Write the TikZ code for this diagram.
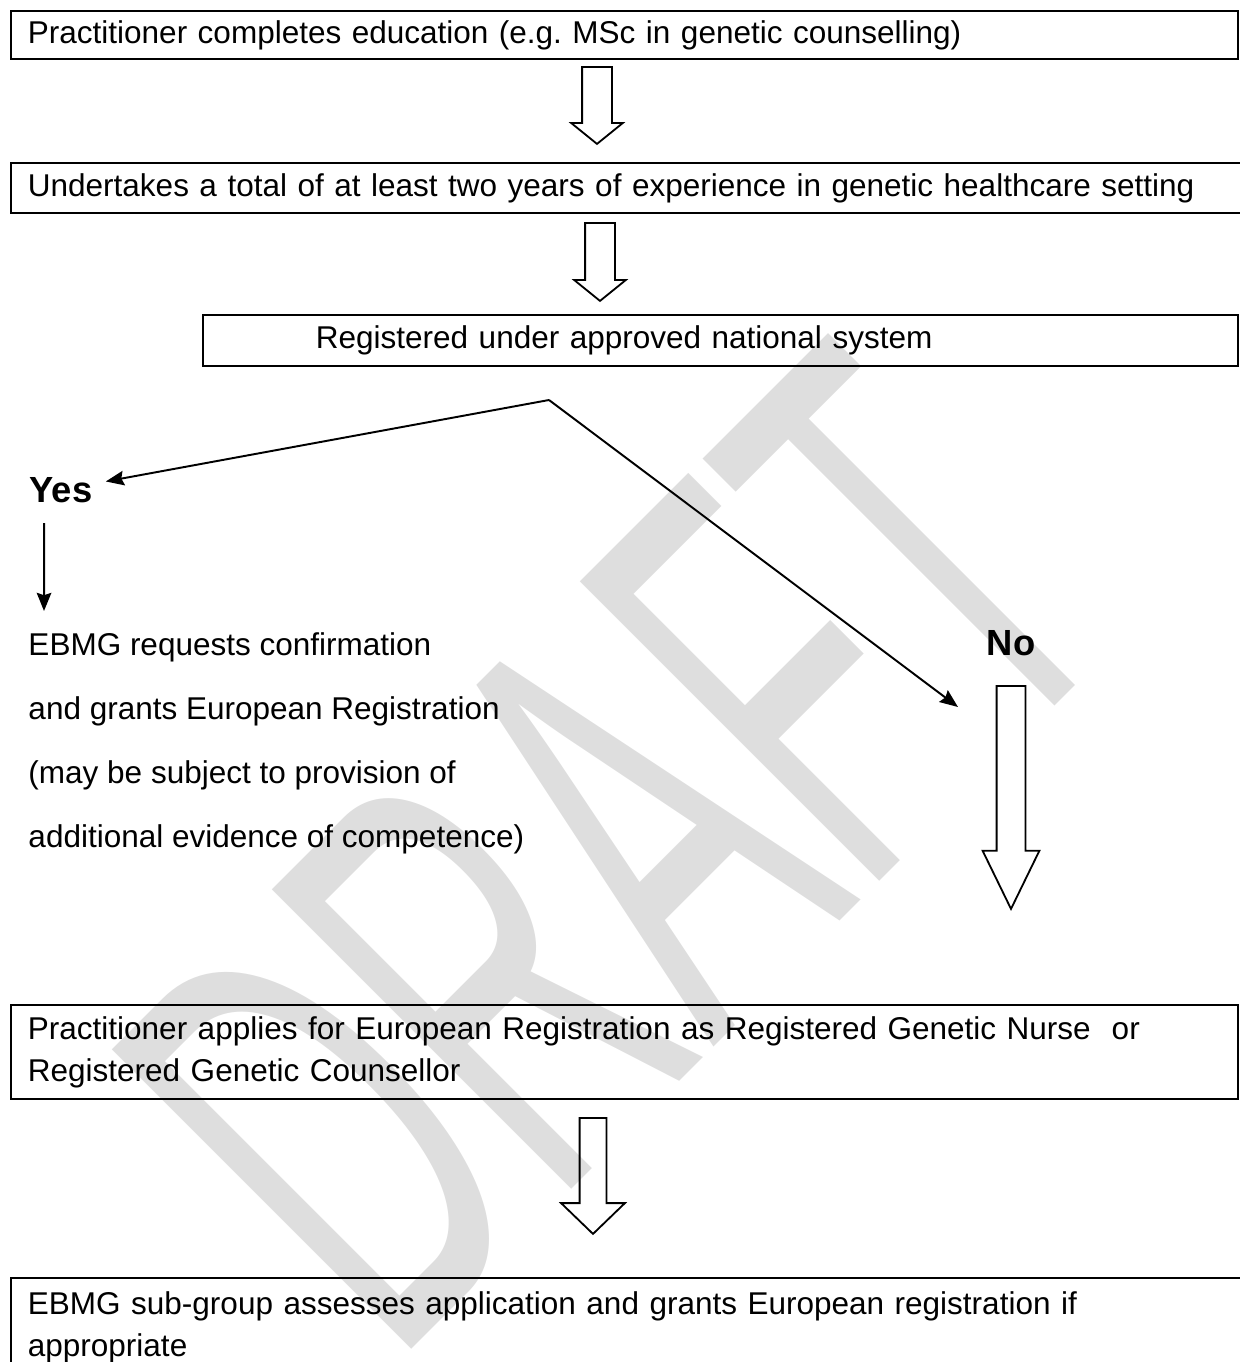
\documentclass[tikz,border=0pt]{standalone}
\usepackage{fontspec}
\setmainfont{Liberation Sans}
\usetikzlibrary{shapes.arrows, arrows.meta, calc}

\newlength\px
\setlength\px{0.4126pt}
\frenchspacing

\begin{document}
\begin{tikzpicture}[
    x=\px, y=-\px,
    box/.style={draw, line width=0.75pt, anchor=north west, inner xsep=17\px, inner ysep=0pt,
      align=left, font=\fontsize{13}{17.3}\selectfont},
    answer/.style={inner sep=0pt, font=\fontsize{15}{18}\selectfont\bfseries},
    note/.style={anchor=north west, inner sep=0pt, align=left, font=\fontsize{13}{26.4}\selectfont},
    blockarrow/.style={draw, line width=0.75pt, single arrow, rotate=-90, anchor=tail,
      inner xsep=0pt, inner ysep=14\px, single arrow head extend=11\px, single arrow tip angle=102},
    arrow/.style={line width=0.8pt, -{Stealth[length=7.5pt, width=6pt, inset=1pt]}},
    watermark/.style={inner sep=0pt, text=black!13, font=\fontsize{254}{254}\selectfont}
]
\useasboundingbox (0,0) rectangle (1239,1362);

% background watermark
\node[watermark, anchor=base, rotate=45, xscale=0.51] (draft) at (763,998) {DRAFT};

% boxes
\node[box, text width=1193\px, minimum height=48\px] (educ) at (10,10)
  {Practitioner completes education (e.g. MSc in genetic counselling)};
\node[box, text width=1198\px, minimum height=50\px] (experience) at (10,162)
  {Undertakes a total of at least two years of experience in genetic healthcare setting};
\node[box, text width=1001\px, minimum height=51\px] (national) at (202,314)
  {\hspace*{96\px}Registered under approved national system};
\node[box, text width=1193\px, minimum height=94\px] (apply) at (10,1004)
  {Practitioner applies for European Registration as Registered Genetic Nurse\ \ or\\
   Registered Genetic Counsellor};
\node[box, text width=1198\px, minimum height=99\px] (assess) at (10,1277)
  {EBMG sub-group assesses application and grants European registration if\\
   appropriate};

% hollow arrows
\node[blockarrow, minimum height=77\px] (step1) at (597,66) {};
\node[blockarrow, minimum height=78\px] (step2) at (600,222) {};
\node[blockarrow, minimum height=223\px, inner ysep=13.5\px, single arrow head extend=14\px,
  single arrow tip angle=52] (nostep) at (1011,685) {};
\node[blockarrow, minimum height=116\px, inner ysep=12.5\px, single arrow head extend=18.5\px,
  single arrow tip angle=92] (step4) at (593,1117) {};

% yes / no branch
\coordinate (split) at (549,400);
\coordinate (noend) at (958,707);
\node[answer, inner xsep=13\px, anchor=base] (yes) at (61,502) {Yes};
\node[answer, anchor=base] (no) at (1011,655) {No};
\node[note] (confirm) at (28,632)
  {EBMG requests confirmation\\
   and grants European Registration\\
   (may be subject to provision of\\
   additional evidence of competence)};

\draw[arrow] (split) -- (yes);
\draw[arrow] (split) -- (noend);
\draw[arrow] ($(yes.base west)+(28,21)$) -- ($(confirm.north west)+(16,-21)$);
\end{tikzpicture}
\end{document}
